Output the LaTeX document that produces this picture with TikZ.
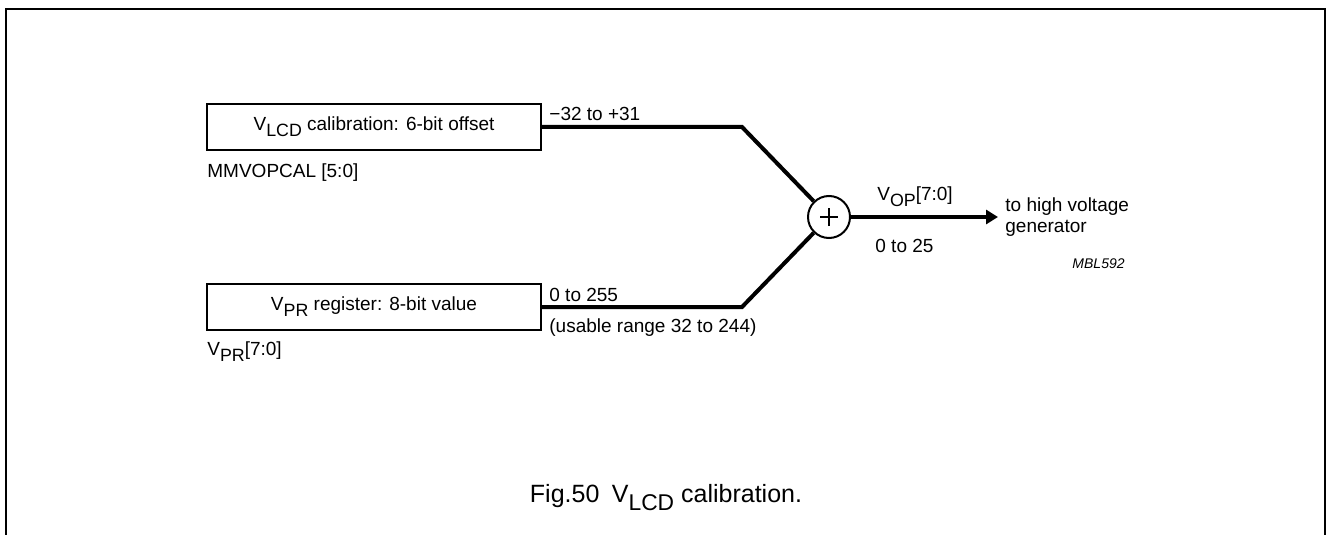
\documentclass[tikz,border=0pt]{standalone}
\usepackage{fontspec}
\setmainfont{Liberation Sans}
\usetikzlibrary{arrows.meta}
\newcommand{\lsub}[1]{\raisebox{-0.62ex}{\fontsize{8.9pt}{10pt}\selectfont #1}}
\newcommand{\csub}[1]{\raisebox{-0.62ex}{\fontsize{11.4pt}{13pt}\selectfont #1}}
\begin{document}
\begin{tikzpicture}[x=0.5pt,y=-0.5pt,
  every node/.style={font=\fontsize{9.5pt}{11pt}\selectfont, inner sep=0pt},
  regbox/.style={draw, line width=1pt, minimum width=167pt, minimum height=23pt, inner sep=0pt},
  bus/.style={line width=2pt},
  lbl/.style={anchor=base west},
  frameline/.style={line width=1pt}]
\useasboundingbox (0,0) rectangle (1327,535);
\draw[frameline] (5.5,535) -- (5.5,9.5) -- (1325,9.5) -- (1325,535);

\node[regbox] (b1) at (374,127) {V\lsub{LCD} calibration: 6-bit offset};
\node[regbox] (b2) at (374,307) {V\lsub{PR} register: 8-bit value};
\node[draw, circle, line width=1pt, minimum size=21pt] (sum) at (829,217) {};
\draw[line width=1pt] ([xshift=-4.5pt]sum.center) -- ([xshift=4.5pt]sum.center);
\draw[line width=1pt] ([yshift=-4.5pt]sum.center) -- ([yshift=4.5pt]sum.center);

\coordinate (c1) at (742,127);
\coordinate (c2) at (742,307);
\coordinate (tip) at (998,217);
\draw[bus] (b1.east) -- (c1) -- (sum);
\draw[bus] (b2.east) -- (c2) -- (sum);
\draw[bus, -{Triangle[length=6pt,width=7pt]}] (sum) -- (tip);

\node[lbl] (l1) at (549,120) {−32 to +31};
\node[lbl] (l2) at (207,177) {MMVOPCAL [5:0]};
\node[lbl] (l3) at (549,301) {0 to 255};
\node[lbl] (l4) at (549,332) {(usable range 32 to 244)};
\node[lbl] (l5) at (207,355) {V\lsub{PR}[7:0]};
\node[lbl] (l6) at (877,200) {V\lsub{OP}[7:0]};
\node[lbl] (l7) at (875,252) {0 to 25};
\node[lbl] (l8a) at (1005,211) {to high voltage};
\node[lbl] (l8b) at (1005,232) {generator};
\node[anchor=base east, font=\fontsize{7pt}{8pt}\selectfont\itshape] (l9) at (1125,268) {MBL592};
\node[anchor=base, font=\fontsize{12.5pt}{14pt}\selectfont] (cap) at (666,502) {Fig.50\hspace{0.5em}V\csub{LCD} calibration.};
\end{tikzpicture}
\end{document}
